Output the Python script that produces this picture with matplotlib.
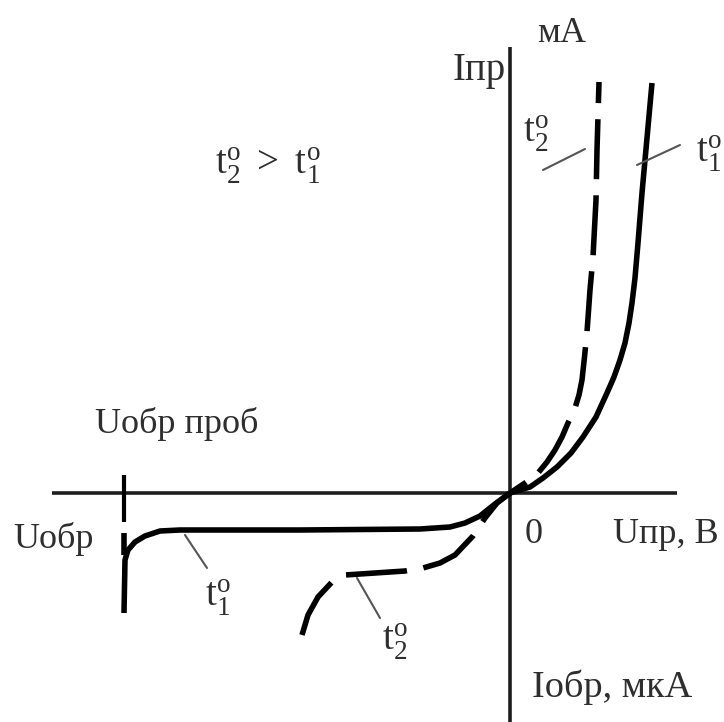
import matplotlib
matplotlib.use("Agg")
import matplotlib.pyplot as plt

plt.rcParams["font.family"] = ["Liberation Serif", "DejaVu Serif"]
plt.rcParams["mathtext.fontset"] = "custom"
plt.rcParams["mathtext.rm"] = "Liberation Serif"
plt.rcParams["mathtext.it"] = "Liberation Serif"

# forward branch (U > 0, mA), schematic units
u_fwd_t1 = [0.00, 0.20, 0.33, 0.47, 0.61, 0.73, 0.86, 0.97, 1.04, 1.10, 1.15, 1.19, 1.22, 1.25, 1.28, 1.32, 1.37, 1.42]
i_fwd_t1 = [0.00, 0.06, 0.15, 0.26, 0.40, 0.56, 0.76, 1.00, 1.16, 1.33, 1.50, 1.70, 1.90, 2.15, 2.50, 3.00, 3.55, 4.10]

# t2 forward, listed from the top end down to the origin
u_fwd_t2 = [0.89, 0.87, 0.86, 0.83, 0.80, 0.77, 0.745, 0.72, 0.69, 0.65, 0.58, 0.52, 0.45, 0.37, 0.28, 0.15, 0.00]
i_fwd_t2 = [4.11, 3.43, 2.93, 2.36, 2.03, 1.61, 1.36, 1.13, 0.98, 0.85, 0.70, 0.56, 0.43, 0.31, 0.20, 0.10, 0.00]

# reverse branch (U < 0, uA)
u_rev_t1 = [0.00, -0.15, -0.30, -0.45, -0.60, -0.90, -2.10, -3.30, -3.50, -3.65, -3.75, -3.82, -3.85, -3.86]
i_rev_t1 = [0.00, -0.11, -0.23, -0.30, -0.34, -0.36, -0.37, -0.37, -0.38, -0.43, -0.49, -0.57, -0.67, -1.20]

# t2 reverse, listed from the far end back to the origin
u_rev_t2 = [-2.08, -2.02, -1.92, -1.78, -1.65, -1.35, -1.05, -0.87, -0.70, -0.55, -0.37, -0.25, -0.13, 0.00]
i_rev_t2 = [-1.42, -1.22, -1.04, -0.89, -0.82, -0.80, -0.78, -0.75, -0.70, -0.62, -0.43, -0.25, -0.10, 0.00]

u_breakdown = -3.86

fig = plt.figure(figsize=(7.24, 7.22), dpi=100)
ax = fig.add_axes([0, 0, 1, 1])
ax.set_xlim(-5.10, 2.14)
ax.set_ylim(-2.29, 4.93)
ax.axis("off")

axis_kw = dict(color="#1e1e1e", lw=2.6, solid_capstyle="butt")
ax.plot([-4.58, 1.67], [0, 0], **axis_kw)
ax.plot([0, 0], [-2.29, 4.46], **axis_kw)

curve_kw = dict(color="black", lw=4, solid_joinstyle="round", solid_capstyle="butt")
ax.plot(u_fwd_t1, i_fwd_t1, **curve_kw)
ax.plot(u_rev_t1, i_rev_t1, **curve_kw)
ax.plot([u_breakdown, u_breakdown], [-0.40, -0.62], **curve_kw)
# breakdown voltage mark on the U axis
ax.plot([u_breakdown, u_breakdown], [0.18, -0.29], color="black", lw=3, solid_capstyle="butt")

dash_kw = dict(color="black", lw=4, dash_capstyle="butt", dash_joinstyle="round")
ax.plot(u_fwd_t2, i_fwd_t2, linestyle=(7.0, (10.8, 2.9)), **dash_kw)
ax.plot(u_rev_t2, i_rev_t2, linestyle=(0, (11.0, 3.0)), **dash_kw)

txt = dict(color="#2e2e2e", fontsize=26)
tlab = dict(color="#2e2e2e", fontsize=28)
ax.text(0.52, 4.60, "мА", ha="center", va="center", **txt)
ax.text(-0.04, 4.13, "Iпр", ha="right", va="baseline", color="#2e2e2e", fontsize=28)
ax.text(-4.15, 0.60, "Uобр проб", ha="left", va="baseline", **txt)
ax.text(-4.97, -0.55, "Uобр", ha="left", va="baseline", **txt)
ax.text(0.15, -0.50, "0", ha="left", va="baseline", **txt)
ax.text(1.03, -0.50, "Uпр, В", ha="left", va="baseline", **txt)
ax.text(0.22, -2.04, "Iобр, мкА", ha="left", va="baseline", color="#2e2e2e", fontsize=27.5)
ax.text(-2.95, 3.18, r"$\mathrm{t^o_2\ >\ t^o_1}$", ha="left", va="baseline", **tlab)

# curve labels with thin leader lines
lead = dict(arrowstyle="-", color="#555555", lw=1.5, shrinkA=0, shrinkB=0)
ax.text(0.13, 3.50, r"$\mathrm{t^o_2}$", ha="left", va="baseline", **tlab)
ax.annotate("", xy=(0.75, 3.44), xytext=(0.33, 3.23), arrowprops=lead)
ax.text(1.86, 3.30, r"$\mathrm{t^o_1}$", ha="left", va="baseline", **tlab)
ax.annotate("", xy=(1.27, 3.28), xytext=(1.70, 3.48), arrowprops=lead)
ax.text(-3.05, -1.14, r"$\mathrm{t^o_1}$", ha="left", va="baseline", **tlab)
ax.annotate("", xy=(-3.25, -0.42), xytext=(-3.03, -0.75), arrowprops=lead)
ax.text(-1.28, -1.57, r"$\mathrm{t^o_2}$", ha="left", va="baseline", **tlab)
ax.annotate("", xy=(-1.53, -0.85), xytext=(-1.30, -1.25), arrowprops=lead)

fig.savefig("out.png", dpi=100, facecolor="white")
